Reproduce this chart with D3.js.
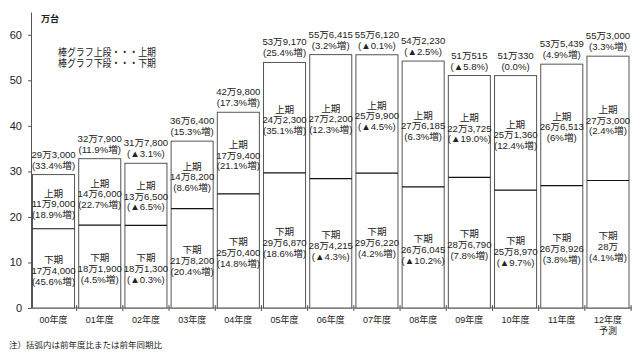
<!DOCTYPE html>
<html>
  <head>
    <meta charset="utf-8">
    <title>販売台数 上期・下期</title>
    <style media="screen">
      body {margin:0; background:#fff}
      text {font-family: "Liberation Sans", Arial, "Noto Sans CJK JP", sans-serif; fill:#222}
    </style>
  </head>
  <body>
    <script src="https://cdn.jsdelivr.net/npm/d3@7"></script>
    <script type="text/javascript">

    // 年度
    const years = ['00年度','01年度','02年度','03年度','04年度','05年度','06年度','07年度','08年度','09年度','10年度','11年度','12年度']
    // 上期 / 下期 (万台)
    const firstHalf  = [11.9, 14.6, 13.65, 14.82, 17.94, 24.23, 27.22, 25.99, 27.6185, 22.3725, 25.136, 26.6513, 27.3]
    const secondHalf = [17.4, 18.19, 18.13, 21.82, 25.04, 29.687, 28.4215, 29.622, 26.6045, 28.679, 25.897, 26.8926, 28]
    // labels as printed
    const totalText  = ['29万3,000','32万7,900','31万7,800','36万6,400','42万9,800','53万9,170','55万6,415','55万6,120','54万2,230','51万515','51万330','53万5,439','55万3,000']
    const totalPct   = ['(33.4%増)','(11.9%増)','(▲3.1%)','(15.3%増)','(17.3%増)','(25.4%増)','(3.2%増)','(▲0.1%)','(▲2.5%)','(▲5.8%)','(0.0%)','(4.9%増)','(3.3%増)']
    const firstText  = ['11万9,000','14万6,000','13万6,500','14万8,200','17万9,400','24万2,300','27万2,200','25万9,900','27万6,185','22万3,725','25万1,360','26万6,513','27万3,000']
    const firstPct   = ['(18.9%増)','(22.7%増)','(▲6.5%)','(8.6%増)','(21.1%増)','(35.1%増)','(12.3%増)','(▲4.5%)','(6.3%増)','(▲19.0%)','(12.4%増)','(6%増)','(2.4%増)']
    const secondText = ['17万4,000','18万1,900','18万1,300','21万8,200','25万0,400','29万6,870','28万4,215','29万6,220','26万6,045','28万6,790','25万8,970','26万8,926','28万']
    const secondPct  = ['(45.6%増)','(4.5%増)','(▲0.3%)','(20.4%増)','(14.8%増)','(18.6%増)','(▲4.3%)','(4.2%増)','(▲10.2%)','(7.8%増)','(▲9.7%)','(3.8%増)','(4.1%増)']
    const yTicks = [0, 10, 20, 30, 40, 50, 60]

    const data = years.map((y, i) => ({
      year: y, a: firstHalf[i], b: secondHalf[i],
      tt: totalText[i], tp: totalPct[i], at: firstText[i], ap: firstPct[i], bt: secondText[i], bp: secondPct[i]
    }))

    const svg = d3.select('body').append('svg')
      .attr('width', 640)
      .attr('height', 360)

    const x = d3.scaleBand().domain(years).range([32.5, 629]).paddingInner(0.09).paddingOuter(0)
    const y = d3.scaleLinear().domain([0, 65]).range([308, 12])

    // y axis
    const yAxis = svg.append('g')
      .attr('transform', 'translate(31,0)')
      .call(d3.axisLeft(y).tickValues(yTicks).tickSize(3).tickSizeOuter(0).tickPadding(6))
    yAxis.select('.domain').attr('stroke', '#555')
    yAxis.selectAll('.tick line').attr('stroke', '#555')
    yAxis.selectAll('.tick text').attr('font-size', 11).style('fill', '#222')

    // x axis
    svg.append('line').attr('x1', 31).attr('x2', 632).attr('y1', y(0)).attr('y2', y(0)).attr('stroke', '#555')
    const step = x.step(), gap = step * x.paddingInner()
    svg.selectAll('.xtick').data(years).join('line')
      .attr('class', 'xtick')
      .attr('x1', d => x(d) + x.bandwidth() + gap / 2)
      .attr('x2', d => x(d) + x.bandwidth() + gap / 2)
      .attr('y1', y(0) - 3).attr('y2', y(0) + 3)
      .attr('stroke', '#555')

    svg.selectAll('.xlab').data(years).join('text')
      .attr('class', 'xlab')
      .attr('x', d => x(d) + x.bandwidth() / 2)
      .attr('y', 323)
      .attr('text-anchor', 'middle')
      .attr('font-size', 9)
      .text(d => d)
    svg.append('text')
      .attr('x', x('12年度') + x.bandwidth() / 2)
      .attr('y', 334)
      .attr('text-anchor', 'middle')
      .attr('font-size', 9)
      .text('予測')

    // bars
    const g = svg.selectAll('.bar').data(data).join('g').attr('class', 'bar')

    g.append('rect')
      .attr('x', d => x(d.year))
      .attr('width', x.bandwidth())
      .attr('y', d => y(d.a + d.b))
      .attr('height', d => y(0) - y(d.a + d.b))
      .attr('fill', '#fff')
      .attr('stroke', '#555')

    g.append('line')
      .attr('x1', d => x(d.year))
      .attr('x2', d => x(d.year) + x.bandwidth())
      .attr('y1', d => y(d.b))
      .attr('y2', d => y(d.b))
      .attr('stroke', '#111')
      .attr('stroke-width', 1.2)

    function lines (sel, getLines, getY, gapY) {
      sel.each(function (d) {
        const L = getLines(d)
        const cy = getY(d)
        const t = d3.select(this).append('text')
          .attr('text-anchor', 'middle')
          .attr('font-size', 9.6)
        L.forEach((s, k) => {
          t.append('tspan')
            .attr('x', x(d.year) + x.bandwidth() / 2)
            .attr('y', cy + (k - (L.length - 1) / 2) * gapY + 3.5)
            .text(s)
        })
      })
    }

    // totals above
    lines(g, d => [d.tt, d.tp], d => y(d.a + d.b) - 15, 11)
    // 上期 labels
    lines(g, d => ['上期', d.at, d.ap], d => (y(d.a + d.b) + y(d.b)) / 2 + 2, 10.5)
    // 下期 labels
    lines(g, d => ['下期', d.bt, d.bp], d => (y(d.b) + y(0)) / 2 + 2, 11)

    // unit and legend
    svg.append('text').attr('x', 41).attr('y', 22).attr('font-size', 9).attr('font-weight', 'bold').text('万台')
    svg.append('text').attr('x', 58).attr('y', 56).attr('font-size', 10.5)
      .attr('textLength', 98).attr('lengthAdjust', 'spacingAndGlyphs').text('棒グラフ上段・・・上期')
    svg.append('text').attr('x', 58).attr('y', 67).attr('font-size', 10.5)
      .attr('textLength', 98).attr('lengthAdjust', 'spacingAndGlyphs').text('棒グラフ下段・・・下期')

    // note
    svg.append('text').attr('x', 9).attr('y', 348).attr('font-size', 8.5).text('注）括弧内は前年度比または前年同期比')

    </script>
  </body>
</html>
